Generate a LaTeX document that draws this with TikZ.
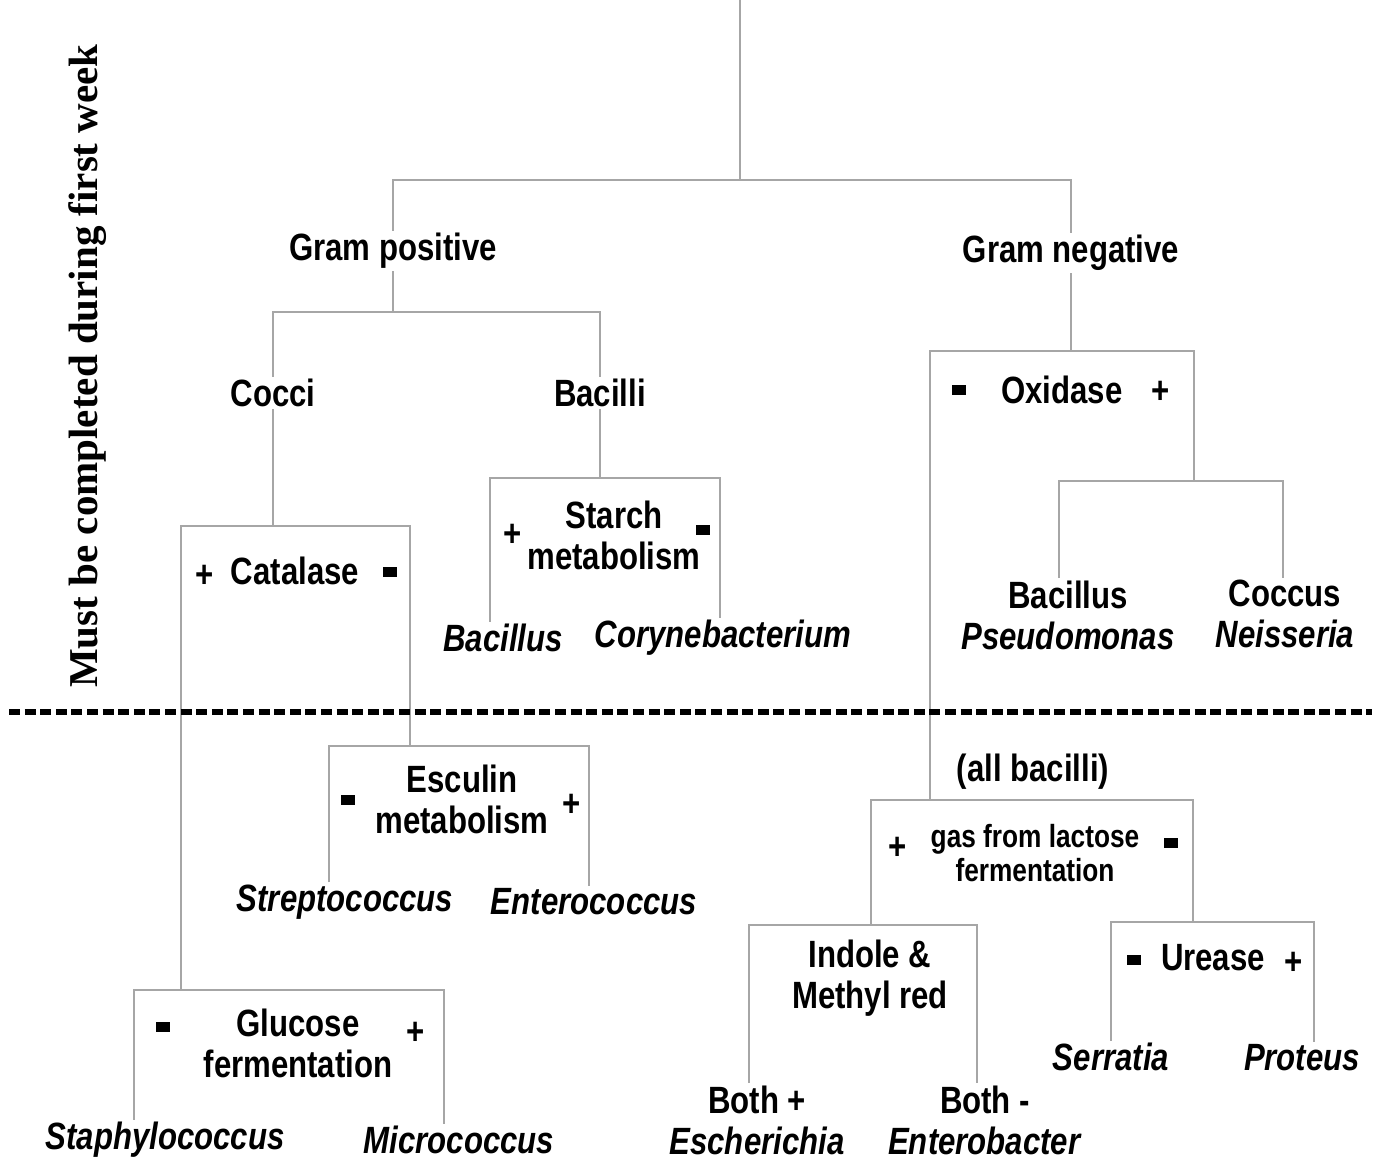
\documentclass[tikz,border=0pt]{standalone}
\usepackage{fontspec}
\setmainfont{Liberation Sans}[FakeStretch=0.82]
\newfontfamily\weekfont{Liberation Serif}
\usetikzlibrary{positioning}
\definecolor{Wire}{HTML}{A6A6A6}
\newcommand\msign{\rule{7pt}{5pt}}

\begin{document}
\begin{tikzpicture}[x=0.5pt,y=-0.5pt,
    lbl/.style={font=\bfseries\fontsize{19}{20.5}\selectfont,align=center,inner sep=1pt},
    genus/.style={lbl,font=\bfseries\itshape\fontsize{19}{20.5}\selectfont},
    small/.style={lbl,font=\bfseries\fontsize{16}{17}\selectfont},
    sgn/.style={font=\bfseries\fontsize{19}{20.5}\selectfont,inner sep=0pt},
    link/.style={draw=Wire,line width=1pt},
    week/.style={draw=black,line width=2.6pt,dash pattern=on 5.5pt off 2.3pt}
  ]
    \useasboundingbox (0,0) rectangle (1377,1161);
    % side note
    \node[rotate=90,font=\weekfont\bfseries\fontsize{20.5}{22}\selectfont] (note) at (88,366) {Must be completed during first week};
    % labels
    \node[lbl] (gpos) at (393,251) {Gram positive};
    \node[lbl] (gneg) at (1071,253) {Gram negative};
    \node[lbl] (cocci) at (273,393) {Cocci};
    \node[lbl] (bacilli) at (600,393) {Bacilli};
    \node[lbl] (cat) at (295,571) {Catalase};
    \node[sgn] (catp) at (205,576) {+};
    \node[sgn] (catm) at (390,572) {\msign};
    \node[lbl] (starch) at (614,535) {Starch\\metabolism};
    \node[sgn] (starchp) at (513,535) {+};
    \node[sgn] (starchm) at (703,530) {\msign};
    \node[genus] (bacillus) at (503,638) {Bacillus};
    \node[genus] (coryne) at (723,638) {Corynebacterium};
    \node[lbl] (oxi) at (1062,390) {Oxidase};
    \node[sgn] (oxim) at (959,390) {\msign};
    \node[sgn] (oxip) at (1161,392) {+};
    \node[lbl] (bac) at (1068,615) {Bacillus\\\textit{Pseudomonas}};
    \node[lbl] (coc) at (1285,614) {Coccus\\\textit{Neisseria}};
    \node[lbl] (esc) at (462,799) {Esculin\\metabolism};
    \node[sgn] (escm) at (348,800) {\msign};
    \node[sgn] (escp) at (572,805) {+};
    \node[genus] (strep) at (345,902) {Streptococcus};
    \node[genus] (entero) at (594,902) {Enterococcus};
    \node[lbl] (glu) at (298,1043) {Glucose\\fermentation};
    \node[sgn] (glum) at (163,1027) {\msign};
    \node[sgn] (glup) at (416,1033) {+};
    \node[genus] (staph) at (165,1140) {Staphylococcus};
    \node[genus] (micro) at (459,1140) {Micrococcus};
    \node[lbl] (allbac) at (1033,772) {(all bacilli)};
    \node[small] (gas) at (1035,853) {gas from lactose\\fermentation};
    \node[sgn] (gasp) at (898,848) {+};
    \node[sgn] (gasm) at (1171,843) {\msign};
    \node[lbl] (ind) at (870,978) {Indole \&\\Methyl red};
    \node[lbl] (bothp) at (757,1120) {Both +\\\textit{Escherichia}};
    \node[lbl] (bothm) at (985,1120) {Both -\\\textit{Enterobacter}};
    \node[lbl] (ure) at (1213,958) {Urease};
    \node[sgn] (urem) at (1134,960) {\msign};
    \node[sgn] (urep) at (1294,963) {+};
    \node[genus] (serr) at (1111,1057) {Serratia};
    \node[genus] (prot) at (1302,1058) {Proteus};
    % bracket corners
    \coordinate (root) at (740,0);
    \coordinate (gram) at (740,180);
    \coordinate (gposB) at (393,312);
    \coordinate (catL) at (181,526); \coordinate (catR) at (410,526);
    \coordinate (stL) at (490,478); \coordinate (stR) at (720,478);
    \coordinate (oxL) at (930,351); \coordinate (oxR) at (1194,351);
    \coordinate (morL) at (1059,481); \coordinate (morR) at (1283,481);
    \coordinate (escL) at (329,746); \coordinate (escR) at (589,746);
    \coordinate (glL) at (134,990); \coordinate (glR) at (444,990);
    \coordinate (gasL) at (871,800); \coordinate (gasR) at (1193,800);
    \coordinate (indL) at (749,925); \coordinate (indR) at (977,925);
    \coordinate (urL) at (1111,922); \coordinate (urR) at (1314,922);
    \coordinate (dashL) at (9,712); \coordinate (dashR) at (1372,712);
    % tree
    \draw[link] (root) -- (gram);
    \draw[link] (gpos.north) |- (gram) -| (gneg.north);
    \draw[link] (gpos.south) -- (gposB);
    \draw[link] (cocci.north) |- (gposB) -| (bacilli.north);
    \draw[link] (cocci.south) -- (cocci.south |- catL);
    \draw[link] (catL |- glL) -- (catL) -- (catR) -- (catR |- escL);
    \draw[link] (bacilli.south) -- (bacilli.south |- stL);
    \draw[link] (bacillus.north -| stL) -- (stL) -- (stR) -- (coryne.north -| stR);
    \draw[link] (gneg.south) -- (gneg.south |- oxL);
    \draw[link] (oxL |- gasL) -- (oxL) -- (oxR) -- (oxR |- morL);
    \draw[link] (bac.north -| morL) -- (morL) -- (morR) -- (coc.north -| morR);
    \draw[link] (strep.north -| escL) -- (escL) -- (escR) -- (entero.north -| escR);
    \draw[link] (staph.north -| glL) -- (glL) -- (glR) -- (micro.north -| glR);
    \draw[link] (gasL |- indL) -- (gasL) -- (gasR) -- (gasR |- urL);
    \draw[link] (bothp.north -| indL) -- (indL) -- (indR) -- (bothm.north -| indR);
    \draw[link] (serr.north -| urL) -- (urL) -- (urR) -- (prot.north -| urR);
    % first week limit
    \draw[week] (dashL) -- (dashR);
\end{tikzpicture}
\end{document}
